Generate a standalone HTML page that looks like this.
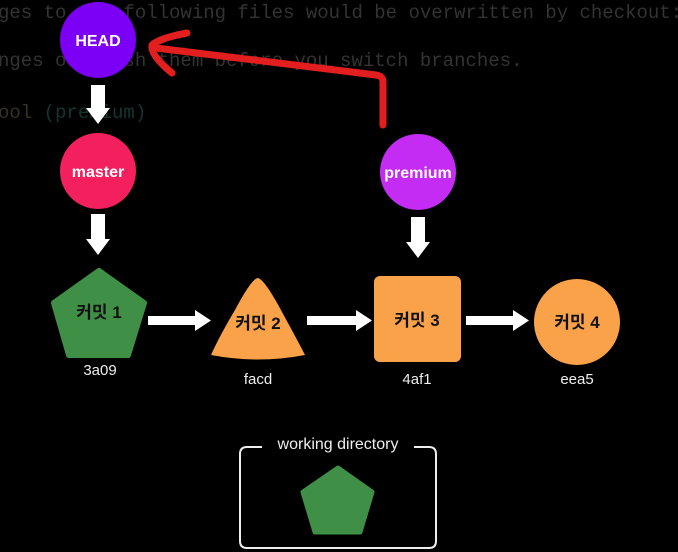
<!DOCTYPE html>
<html><head><meta charset="utf-8"><style>
html,body{margin:0;padding:0;background:#000;width:678px;height:552px;overflow:hidden}
</style></head><body>
<svg width="678" height="552" viewBox="0 0 678 552" xmlns="http://www.w3.org/2000/svg">
<g font-family="Liberation Mono, DejaVu Sans Mono, monospace" font-size="19" fill="#333">
<text x="-2" y="18">ges to the following files would be overwritten by checkout:</text>
<text x="-2" y="66">nges or stash them before you switch branches.</text>
<text x="-2" y="118" fill="#33331f">ool <tspan fill="#133630">(premium)</tspan></text>
</g>
<g fill="#fff">
<rect x="91" y="85" width="14" height="24"/><polygon points="86,108 110,108 98,124"/>
<rect x="91" y="214" width="14" height="26"/><polygon points="86,239 110,239 98,255"/>
<rect x="411" y="217" width="14" height="26"/><polygon points="406,242 430,242 418,258"/>
<rect x="148" y="316" width="48" height="9"/><polygon points="195,310 211,320.5 195,331"/>
<rect x="307" y="316" width="50" height="9"/><polygon points="356,310 372,320.5 356,331"/>
<rect x="466" y="316" width="48" height="9"/><polygon points="513,310 529,320.5 513,331"/>
</g>
<ellipse cx="98" cy="40" rx="38" ry="38" fill="#7b00f5"/>
<circle cx="98" cy="171" r="38" fill="#f4205e"/>
<circle cx="418" cy="172" r="38" fill="#c42cf3"/>
<polygon points="99,271 144,303 128,355 69,355 54,303" fill="#3f8f46" stroke="#3f8f46" stroke-width="6" stroke-linejoin="round"/>
<path d="M258,278 Q265,280 282,312 Q300,345 305,355 Q258,364 211,355 Q220,335 235,310 Q252,278 258,278Z" fill="#f9a24a"/>
<rect x="374" y="276" width="87" height="86" rx="6" fill="#f9a24a"/>
<circle cx="577" cy="322" r="43" fill="#f9a24a"/>
<g font-family="Liberation Sans, DejaVu Sans, sans-serif" font-weight="bold" fill="#fff" text-anchor="middle" font-size="16">
<text x="98" y="46">HEAD</text>
<text x="98" y="177">master</text>
<text x="418" y="178">premium</text>
</g>
<g font-family="Liberation Sans, Noto Sans CJK KR, sans-serif" font-weight="bold" fill="#111" text-anchor="middle" font-size="17">
<text x="99" y="318">커밋 1</text>
<text x="258" y="329">커밋 2</text>
<text x="417" y="326">커밋 3</text>
<text x="577" y="328">커밋 4</text>
</g>
<g font-family="Liberation Sans, DejaVu Sans, sans-serif" fill="#eee" text-anchor="middle" font-size="15">
<text x="100" y="375">3a09</text>
<text x="258" y="384">facd</text>
<text x="417" y="384">4af1</text>
<text x="577" y="384">eea5</text>
</g>
<path d="M262,447 H247 Q240,447 240,454 V541 Q240,548 247,548 H429 Q436,548 436,541 V454 Q436,447 429,447 H414" fill="none" stroke="#eee" stroke-width="2"/>
<text x="338" y="449" font-family="Liberation Sans, DejaVu Sans, sans-serif" font-size="16" fill="#eee" text-anchor="middle">working directory</text>
<polygon points="338,468 372,492 360,532 315,532 303,492" fill="#3f8f46" stroke="#3f8f46" stroke-width="5" stroke-linejoin="round"/>
<g fill="none" stroke="#e31e1e" stroke-width="7" stroke-linecap="round" stroke-linejoin="round">
<path d="M383,125 V82 Q383,76 376,75 L156,48"/>
<path d="M187,33 Q160,38 152,45 Q150,55 172,73"/>
</g>
</svg>
</body></html>
